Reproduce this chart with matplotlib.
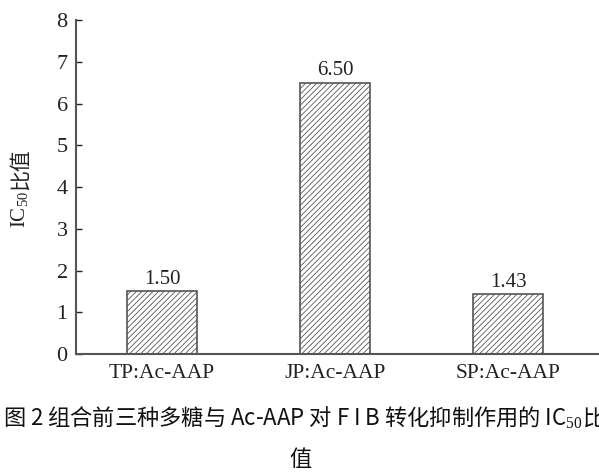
import matplotlib
matplotlib.use("Agg")
import matplotlib.pyplot as plt
import numpy as np

groups = ["TP:Ac-AAP", "JP:Ac-AAP", "SP:Ac-AAP"]
ratios = [1.50, 6.50, 1.43]
yticks = [0, 1, 2, 3, 4, 5, 6, 7, 8]
caption1 = "图 2 组合前三种多糖与 Ac-AAP 对 F I B 转化抑制作用的 IC$_{50}$比"
caption2 = "值"

plt.rcParams['font.family'] = ['Liberation Serif', 'Noto Sans CJK SC']
plt.rcParams['mathtext.fontset'] = 'custom'
plt.rcParams['mathtext.rm'] = 'Liberation Serif'
plt.rcParams['hatch.linewidth'] = 0.6
plt.rcParams['hatch.color'] = '#555555'

W, H = 599, 473
fig = plt.figure(figsize=(W/100, H/100), dpi=100, facecolor='white')
ax = fig.add_axes([76/W, (H-354)/H, (W-76)/W, (354-20)/H])

x = np.arange(len(groups))
bars = ax.bar(x, ratios, width=0.405, color='white', edgecolor='#555555',
              linewidth=1.2, hatch='//////')
for xi, v in zip(x, ratios):
    ax.text(xi, v+0.06, f"{v:.2f}", ha='center', va='bottom', fontsize=15,
            color='#222222')

ax.set_xlim(-0.497, 2.526)
ax.set_ylim(0, 8)
ax.set_yticks(yticks)
ax.set_xticks(x)
ax.set_xticklabels(groups, fontsize=15.5)
ax.tick_params(axis='y', direction='in', length=4, width=1, labelsize=16, pad=6,
               colors='#222222')
ax.tick_params(axis='x', length=0, pad=7, labelsize=15.5, colors='#222222')
for s in ['top', 'right']:
    ax.spines[s].set_visible(False)
for s in ['left', 'bottom']:
    ax.spines[s].set_color('#555555')
    ax.spines[s].set_linewidth(1.5)

# y label: serif IC50 followed by CJK 比值
t1 = fig.text(20/W, 1-228/H, "IC$_{50}$", rotation=90, ha='center', va='bottom',
              fontsize=15, color='#222222')
fig.canvas.draw()
bb = t1.get_window_extent()
fig.text(20/W, (bb.y1+1)/H, "比值", rotation=90, ha='center', va='bottom',
         fontsize=15, family=['Noto Sans CJK SC'], color='#222222')

fig.text(3/W, 1-418/H, caption1, ha='left', va='center', fontsize=16,
         family=['Noto Sans CJK SC', 'DejaVu Sans'], color='#111111')
fig.text(300/W, 1-459/H, caption2, ha='center', va='center', fontsize=16,
         family=['Noto Sans CJK SC', 'DejaVu Sans'], color='#111111')

fig.savefig("out.png", dpi=100, facecolor='white')
